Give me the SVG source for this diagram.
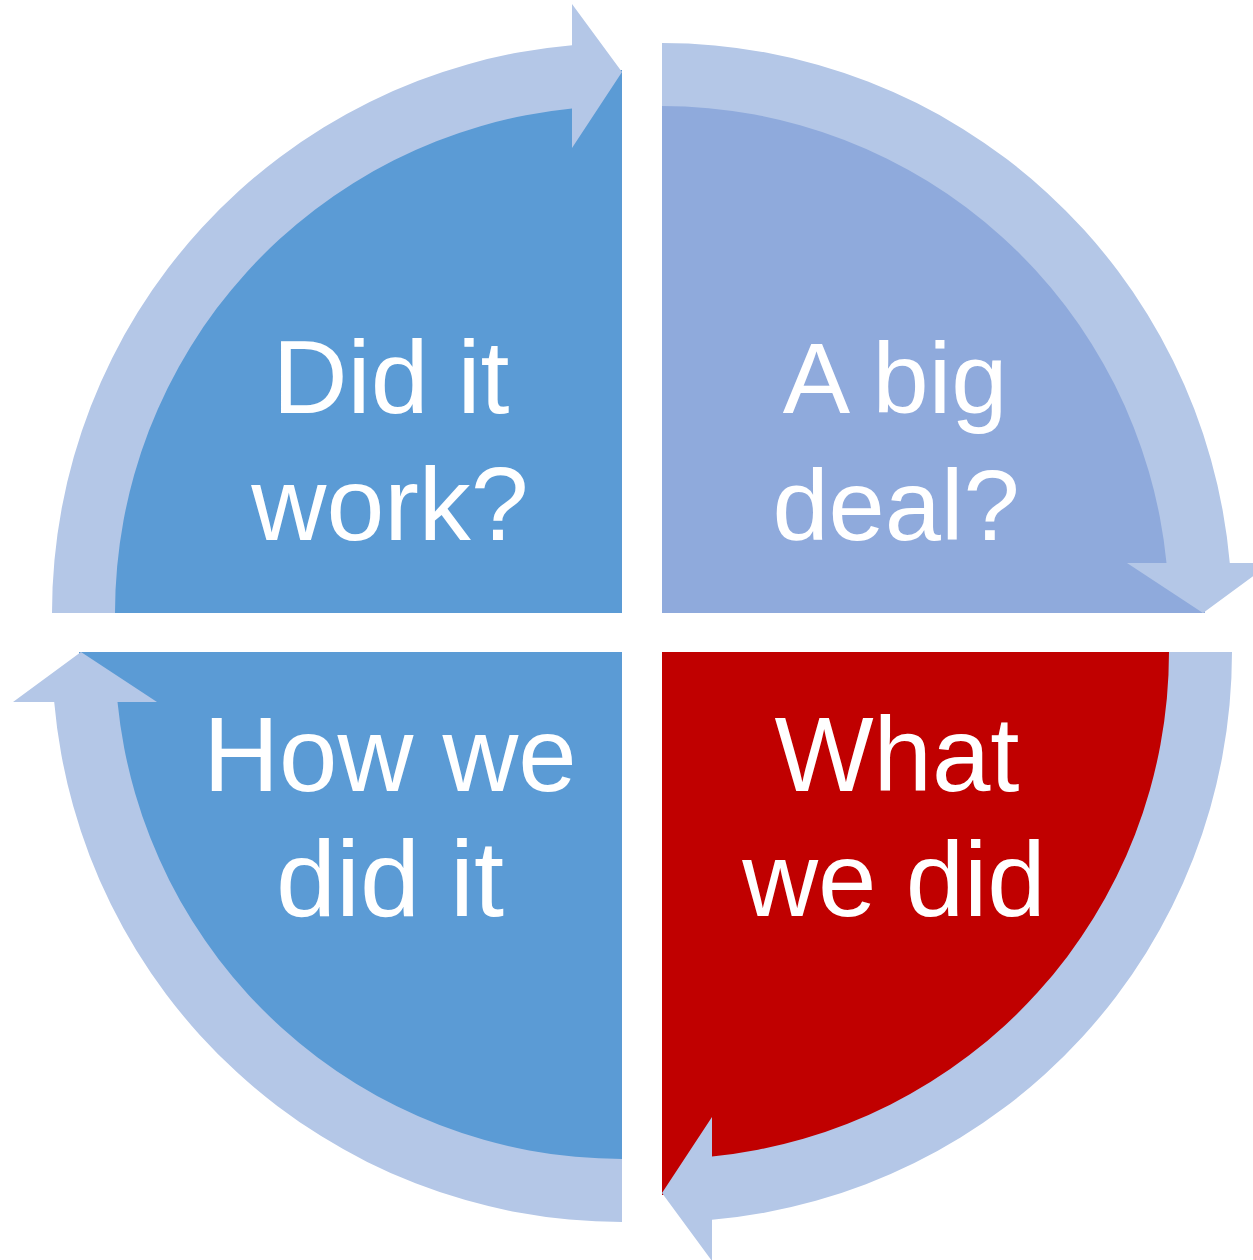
<svg xmlns="http://www.w3.org/2000/svg" width="1253" height="1260" viewBox="0 0 1253 1260">
  <defs>
    <style>
      .lbl { font-family: "Liberation Sans", Arial, sans-serif; fill: #FFFFFF; text-anchor: middle; }
      .top { font-size: 101px; }
      .tl { font-size: 104px; }
      .bot { font-size: 105px; }
      .bl2 { font-size: 108px; }
      .ring { fill: #B4C7E7; }
    </style>
    <path id="quad" d="M 0 0 L -543 0 A 543 543 0 0 1 0 -543 Z"/>
    <path id="arrow" d="M -570 0 L -507 0 A 507 507 0 0 1 -50 -504.5 L -50 -465 L 0 -541 L -50 -609 L -50 -567.8 A 570 570 0 0 0 -570 0 Z"/>
  </defs>
  <rect x="0" y="0" width="1253" height="1260" fill="#FFFFFF"/>
  <g id="node-did-it-work">
    <use href="#quad" transform="translate(622,613)" fill="#5B9BD5"/>
  </g>
  <g id="node-a-big-deal">
    <use href="#quad" transform="translate(662,613) rotate(90)" fill="#8FAADC"/>
  </g>
  <g id="node-what-we-did">
    <use href="#quad" transform="translate(662,652) rotate(180)" fill="#C00000"/>
  </g>
  <g id="node-how-we-did-it">
    <use href="#quad" transform="translate(622,652) rotate(270)" fill="#5B9BD5"/>
  </g>
  <g id="connectors">
    <use href="#arrow" class="ring" transform="translate(622,613)"/>
    <use href="#arrow" class="ring" transform="translate(662,613) rotate(90)"/>
    <use href="#arrow" class="ring" transform="translate(662,652) rotate(180)"/>
    <use href="#arrow" class="ring" transform="translate(622,652) rotate(270)"/>
  </g>
  <g id="labels">
    <text class="lbl tl" x="391" y="413">Did it</text>
    <text class="lbl tl" x="390" y="540">work?</text>
    <text class="lbl top" x="895" y="413">A big</text>
    <text class="lbl top" x="896" y="540">deal?</text>
    <text class="lbl bot" x="390" y="791">How we</text>
    <text class="lbl bl2" x="390" y="916">did it</text>
    <text class="lbl bot" x="897" y="791">What</text>
    <text class="lbl bot" x="894" y="916">we did</text>
  </g>
</svg>
